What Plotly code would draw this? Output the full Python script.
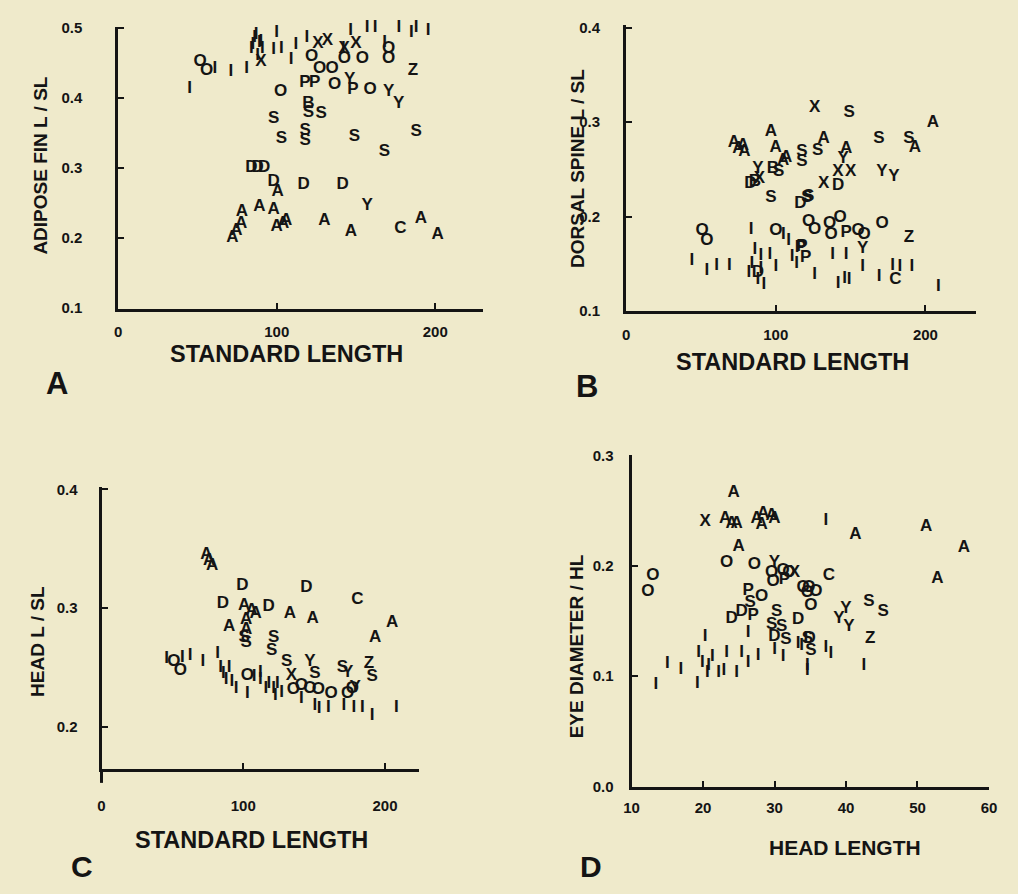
import plotly.graph_objects as go

W, H = 1018, 894
BG = "#efeacb"
INK = "#141414"
FONT = "Liberation Sans, Arial, Helvetica, sans-serif"

# ---------------- Panel A: adipose fin length / SL vs standard length
a_code = ["O","O","I","I","I","I","I","I","I","I","I","X","I","I","I","I","I","I","I","I","I","I","I","I","I","I","I","I","I","I",
          "I","I","I",
          "O","S","S","D","D","D","D","A","A","A","A","A","A","A","A","A","A",
          "P","P","O","O","O","O","O","O","O","O","O","X","X","X","X","Y","P","Y","Y","Z",
          "B","S","S","S","S","S","S","S","D","D","A","A","Y","C","A","A"]
a_sl = [51.6,55.7,61,45,71,81,84,86,88,89,91,90,100,98,103,109,112,119,126,142,146.6,146.6,157,162,168,177,178,185,188,195.5,
        85,87,90,
        102.5,98,103,84,88,92,98,100.6,78,77.6,74.5,72,89,98,100,106,104,
        117.8,124,122,127,135,136.5,142.6,154,159,170.6,170.6,126,132,142.6,150,146,148,170.6,177,186,
        120,120,128,118,118,149,168,188,117,141.6,130,146.8,157,178,191,201.6]
a_ratio = [.451,.439,.441,.413,.437,.441,.47,.485,.46,.478,.47,.451,.493,.468,.47,.454,.476,.486,.505,.47,.507,.495,.5,.5,.479,.5,.505,.493,.5,.496,
           .475,.49,.48,
           .409,.37,.342,.30,.30,.30,.28,.266,.237,.22,.211,.2,.244,.241,.216,.225,.22,
           .421,.421,.458,.442,.442,.419,.456,.456,.412,.456,.47,.477,.482,.47,.477,.426,.412,.409,.391,.439,
           .391,.378,.377,.353,.339,.344,.323,.351,.276,.276,.225,.209,.246,.213,.227,.204]

# ---------------- Panel B: dorsal spine length / SL vs standard length
b_code = ["A","A","A","A","A","A","A","A","B","S","Y","X","D","B","S","S","S","D","S",
          "O","O","I","O","I","I","P","I","I","I","I","I","I","I","I","I","I","I","D","I","I","I","I",
          "X","S","A","S","A","Y","X","X","X","D","S","S","A","A","Y","Y","S",
          "O","O","O","O","O","O","O","O","P","P","Y","Z","C",
          "I","I","I","I","I","I","I","I","I","I","I","I","P"]
b_sl = [72,75,78,79,96.7,100,105,107,98,102,88,89,83,86,96.7,117.5,117.5,116.4,120.8,
        50.7,54,83.6,100,105,108.6,116.4,44,54,60.5,69,82,84,86,88,90,92,90,88,96,100,111,114,
        126,149,132,128,147,145,141.6,150,132,141.6,169,189,193,205,171,179,122,
        122,126,136,137,143,155,159,171,147,117.5,158,189,180,
        138,147,158,126,141.6,146,149,169,178,183,191,208.6,120]
b_ratio = [.278,.272,.275,.268,.29,.273,.259,.262,.251,.247,.251,.24,.235,.237,.22,.268,.258,.213,.22,
           .185,.174,.186,.185,.181,.174,.167,.153,.143,.148,.148,.14,.15,.165,.133,.145,.128,.158,.14,.16,.147,.157,.15,
           .315,.31,.282,.27,.272,.261,.247,.247,.235,.233,.282,.282,.273,.299,.247,.242,.221,
           .194,.186,.192,.181,.199,.185,.181,.192,.183,.168,.166,.178,.133,
           .159,.16,.147,.138,.129,.134,.133,.136,.148,.147,.147,.126,.156]

# ---------------- Panel C: head length / SL vs standard length
c_code = ["A","A","A","D","D","A","A","A","A","A","A","S","S",
          "I","O","O","I","I","I","I","I","I","I","I","I","I","O","I","I","I",
          "D","C","D","A","A","A","A","S","S","S","Y","S","S","Y","Z","S","X",
          "O","O","O","O","O","O","O","Y",
          "I","I","I","I","I","I","I","I","I","I","I","I","I","I","I","I"]
c_sl = [74,76,78,99.4,85.6,100.7,106,108.8,102,90,102,100.7,102,
        46,51,55.6,57,62.5,71.5,82,84,86,88,90,92,95,103,103,107.6,112,
        144.6,180.6,118,133,149,205,193,121.5,120,130.6,147,150.5,170,173.6,188.7,191,134,
        135.4,141,147,153,162,173.6,177,179,
        112,118,121.5,122.7,127,141,150.5,160,171,178,184,191,208,153.5,116,124]
c_ratio = [.345,.34,.336,.319,.304,.302,.298,.295,.29,.284,.282,.275,.271,
           .257,.255,.247,.258,.26,.255,.262,.25,.245,.24,.25,.238,.232,.243,.228,.242,.246,
           .317,.307,.301,.295,.291,.288,.275,.275,.264,.255,.255,.245,.25,.246,.253,.242,.243,
           .231,.235,.232,.231,.228,.228,.232,.233,
           .24,.236,.232,.226,.229,.224,.218,.216,.218,.216,.216,.209,.216,.215,.232,.236]

# ---------------- Panel D: eye diameter / HL vs head length
d_code = ["A","X","A","A","A","A","A","A","A","A","A","O","O","Y","O","O","O","X","O","P","O","O","O","O",
          "P","O","S","D","D","P","S","S","S","D","D","S","S",
          "I","I","I","I","I","I","I","I","I","I","I","I","I","I","I","I","I","I","I","I","I","I","I",
          "A","A","A","A","C","O","O","O","Y","Y","Y","S","S","Z","D","S",
          "I","I","I","I","I","I"]
d_hl = [24.3,20.3,23.1,24,24.7,27.5,28.4,29.6,30,28.2,25,23.3,27.2,30,29.6,29.8,31.2,32.8,32,31.4,34,34.6,13,12.3,
        26.3,28.2,26.6,24,25.4,27,30.3,29.6,31,33.3,30,31.6,34.6,
        33.3,13.4,15,16.9,19.2,19.4,20.3,19.9,20.8,21.3,20.6,22.2,22.9,23.3,24.7,25.4,26.3,26.3,27.7,30,31.2,34.6,
        37.2,41.3,51.2,56.5,52.8,37.6,34.8,35.8,35.1,40,39,40.4,43.2,45.2,43.4,34.9,
        35.1,37.2,37.9,34.6,42.5,33.8]
d_ratio = [.266,.24,.243,.238,.238,.243,.247,.245,.243,.237,.217,.203,.201,.203,.194,.185,.195,.194,.194,.187,.18,.175,.191,.176,
           .177,.172,.166,.152,.158,.155,.158,.146,.145,.151,.136,.133,.134,
           .129,.092,.111,.106,.093,.121,.136,.112,.109,.117,.103,.103,.105,.121,.103,.121,.112,.139,.118,.124,.117,.109,
           .241,.228,.235,.216,.188,.191,.18,.176,.164,.161,.152,.145,.167,.158,.134,.134,
           .123,.126,.12,.105,.109,.127]

# tick labels
sl_ticks = [0, 100, 200]
a_yticks = [0.1, 0.2, 0.3, 0.4, 0.5]
b_yticks = [0.1, 0.2, 0.3, 0.4]
c_yticks = [0.2, 0.3, 0.4]
d_xticks = [10, 20, 30, 40, 50, 60]
d_yticks = [0.0, 0.1, 0.2, 0.3]


def px(x):
    return x / W


def py(y):
    return 1 - y / H


fig = go.Figure()
panels = [(a_sl, a_ratio, a_code, "x", "y"),
          (b_sl, b_ratio, b_code, "x2", "y2"),
          (c_sl, c_ratio, c_code, "x3", "y3"),
          (d_hl, d_ratio, d_code, "x4", "y4")]
for xs, ys, codes, xa, ya in panels:
    fig.add_trace(go.Scatter(x=xs, y=ys, text=codes, mode="text", xaxis=xa, yaxis=ya,
                             textposition="middle center", cliponaxis=False,
                             textfont=dict(family=FONT, size=17, color=INK, weight="bold"),
                             showlegend=False, hoverinfo="skip"))

tickfont = dict(family=FONT, size=15, color=INK, weight="bold")


def xax(dom, rng, vals, standoff):
    return dict(domain=dom, range=rng, tickvals=vals, ticktext=[str(v) for v in vals],
                showline=True, linewidth=3, linecolor=INK, ticks="inside", ticklen=6,
                tickwidth=2, tickcolor=INK, showgrid=False, zeroline=False,
                tickfont=tickfont, ticklabelstandoff=standoff, fixedrange=True)


def yax(dom, rng, vals, standoff, anchor):
    return dict(domain=dom, range=rng, tickvals=vals, ticktext=["%.1f" % v for v in vals],
                showline=True, linewidth=3, linecolor=INK, ticks="inside", ticklen=6,
                tickwidth=2, tickcolor=INK, showgrid=False, zeroline=False,
                tickfont=tickfont, ticklabelstandoff=standoff, anchor=anchor, fixedrange=True)


fig.update_layout(
    width=W, height=H, autosize=False,
    margin=dict(l=0, r=0, t=0, b=0),
    paper_bgcolor=BG, plot_bgcolor=BG,
    xaxis=xax([px(112), px(483)], [0, 230.4], sl_ticks, 7) | dict(anchor="y"),
    yaxis=yax([py(306), py(19)], [0.0995, 0.5015], a_yticks, 30, "x"),
    xaxis2=xax([px(628), px(983)], [0, 233.5], sl_ticks, 8) | dict(anchor="y2"),
    yaxis2=yax([py(309), py(17)], [0.0995, 0.403], b_yticks, 20, "x2"),
    xaxis3=xax([px(95), px(418)], [0, 224.3], sl_ticks, 21) | dict(anchor="y3"),
    yaxis3=yax([py(775), py(488)], [0.1645, 0.4017], c_yticks, 18, "x3"),
    xaxis4=xax([px(633.5), px(997)], [10, 60.05], d_xticks, 5) | dict(anchor="y4"),
    yaxis4=yax([py(793), py(455)], [-0.0005, 0.3005], d_yticks, 12, "x4"),
)

# extension of panel C's vertical axis below the horizontal axis
fig.add_shape(type="line", xref="paper", yref="paper", x0=px(95), x1=px(95), y0=py(775), y1=py(789),
              line=dict(color=INK, width=3))

ann = []
titles = [
    ("STANDARD LENGTH", 283, 352, 0, 23.5, "middle"),
    ("ADIPOSE FIN L / SL", 33, 160, -90, 19, "middle"),
    ("STANDARD LENGTH", 797, 360, 0, 23.5, "middle"),
    ("DORSAL SPINE L / SL", 578, 163, -90, 19, "middle"),
    ("STANDARD LENGTH", 247, 847, 0, 23.5, "middle"),
    ("HEAD L / SL", 30, 645, -90, 19, "middle"),
    ("HEAD LENGTH", 850, 855, 0, 21, "middle"),
    ("EYE DIAMETER / HL", 577, 650, -90, 19, "middle"),
    ("A", 50, 382, 0, 31, "middle"),
    ("B", 588, 385, 0, 31, "middle"),
    ("C", 75, 893, 0, 30, "bottom"),
    ("D", 592, 893, 0, 30, "bottom"),
]
for txt, x, y, ang, size, yanc in titles:
    ann.append(dict(text=txt, x=px(x), y=py(y), xref="paper", yref="paper", showarrow=False,
                    xanchor="center", yanchor=yanc, textangle=ang,
                    font=dict(family=FONT, size=size, color=INK, weight="bold")))
fig.update_layout(annotations=ann)

page_css = ("document.body.style.margin='0';document.body.style.padding='0';"
            "document.body.style.overflow='hidden';document.body.style.background='%s';" % BG)
fig.write_html("out.html", post_script=page_css, config={"displayModeBar": False})
